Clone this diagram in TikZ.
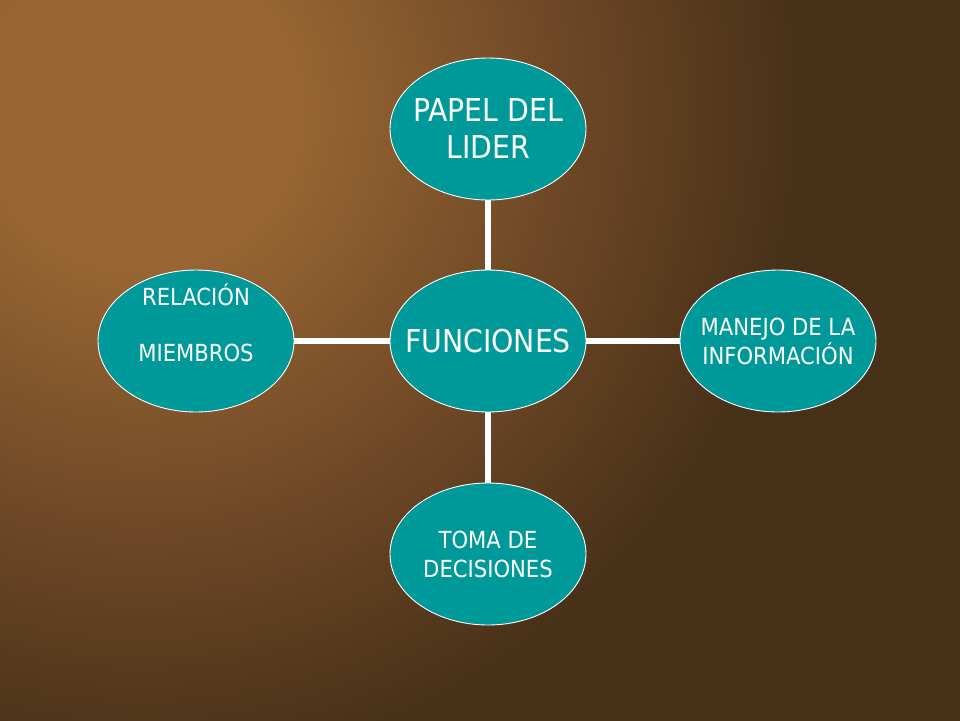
\documentclass[tikz,border=0pt]{standalone}
\usepackage{fontspec}
\setmainfont{DejaVu Sans Condensed}
\usetikzlibrary{shapes.geometric}
\definecolor{bglight}{RGB}{153,102,51}
\definecolor{bgmid}{RGB}{110,72,38}
\definecolor{bgdark}{RGB}{72,49,25}
\definecolor{teal}{RGB}{0,153,153}
\pgfdeclareradialshading{bgshade}{\pgfpoint{0bp}{0bp}}{color(0bp)=(bglight); color(5bp)=(bglight); color(14bp)=(bgmid); color(22bp)=(bgdark); color(50bp)=(bgdark)}
\tikzset{
  bubble/.style={ellipse, fill=teal, draw=white, line width=0.9pt,
    minimum width=196pt, minimum height=142pt, inner sep=-40pt,
    text=white, align=center},
  bigtext/.style={font=\fontsize{31.5}{37}\selectfont},
  smalltext/.style={font=\fontsize{23.5}{29}\selectfont},
  link/.style={draw=white, line width=5.5pt}
}
\begin{document}
\begin{tikzpicture}[x=1pt,y=-1pt]
\useasboundingbox (0,0) rectangle (960,720);
\begin{scope}
\clip (-1,-1) rectangle (961,721);
\fill[bgdark] (-1,-1) rectangle (961,721);
\shade[shading=bgshade] (140,110) circle (750pt);
\end{scope}
\node[bubble, bigtext] (c) at (488,341) {FUNCIONES};
\node[bubble, bigtext] (top) at (488,129) {PAPEL DEL\\LIDER};
\node[bubble, smalltext] (right) at (778,341) {MANEJO DE LA\\INFORMACIÓN};
\node[bubble, smalltext] (bottom) at (488,554) {TOMA DE\\ DECISIONES};
\node[bubble, font=\fontsize{23.5}{28}\selectfont] (left) at (196,341) {\strut RELACIÓN\\\strut\\\strut MIEMBROS\\\strut};
\draw[link] (top) -- (c);
\draw[link] (c) -- (bottom);
\draw[link] (left) -- (c);
\draw[link] (c) -- (right);
\end{tikzpicture}
\end{document}
